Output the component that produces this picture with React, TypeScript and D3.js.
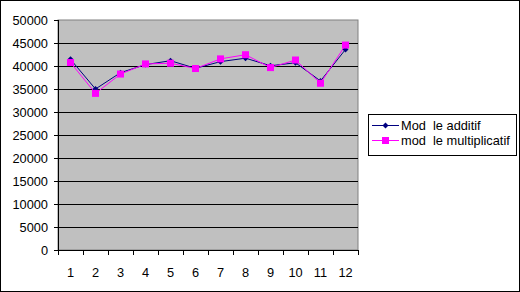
import React from "react";
import * as d3 from "d3";

const categories = ["1", "2", "3", "4", "5", "6", "7", "8", "9", "10", "11", "12"];
const additif = [41450, 35000, 38550, 40300, 41150, 39500, 40950, 41700, 40050, 40700, 36750, 43600];
const multiplicatif = [40750, 34050, 38250, 40450, 40600, 39450, 41550, 42450, 39650, 41300, 36250, 44550];
const yTicks = [0, 5000, 10000, 15000, 20000, 25000, 30000, 35000, 40000, 45000, 50000];
const seriesNames = ["Mod  le additif", "mod  le multiplicatif"];

const W = 520, H = 292;
const L = 58, R = 358, T = 20, B = 250;

export default function App() {
  const x = d3.scaleBand().domain(categories).range([L, R]);
  const y = d3.scaleLinear().domain([0, 50000]).range([B, T]);
  const line = d3.line<number>()
    .x((_, i) => (x(categories[i]) as number) + x.bandwidth() / 2)
    .y((d) => y(d));
  const font = "'Liberation Sans', Arial, sans-serif";
  const fs = 12.8;
  const boundaries = categories.map((c) => x(c) as number).concat([R]);
  return (
    <svg width={W} height={H} style={{ position: "absolute", left: 0, top: 0 }} fontFamily={font}>
      <rect x={0.5} y={0.5} width={W - 1} height={H - 1} fill="#fff" stroke="#000" />
      <rect x={L} y={T} width={R - L} height={B - T} fill="#c0c0c0" stroke="#808080" />
      {yTicks.map((t) => (
        <g key={t}>
          {t > 0 && t < 50000 && (
            <line x1={L} x2={R} y1={Math.round(y(t)) + 0.5} y2={Math.round(y(t)) + 0.5} stroke="#000" />
          )}
          <line x1={L - 4} x2={L} y1={Math.round(y(t)) + 0.5} y2={Math.round(y(t)) + 0.5} stroke="#000" />
          <text x={48} y={y(t) + 4.5} fontSize={fs} textAnchor="end" fill="#000">{t}</text>
        </g>
      ))}
      <line x1={L + 0.5} x2={L + 0.5} y1={T} y2={B} stroke="#000" />
      <line x1={L} x2={R} y1={B + 0.5} y2={B + 0.5} stroke="#000" />
      {boundaries.map((b, i) => (
        <line key={i} x1={Math.round(b) + 0.5} x2={Math.round(b) + 0.5} y1={B} y2={B + 5} stroke="#000" />
      ))}
      {categories.map((c) => (
        <text key={c} x={(x(c) as number) + x.bandwidth() / 2} y={277} fontSize={fs} textAnchor="middle" fill="#000">{c}</text>
      ))}
      <path d={line(additif) || ""} fill="none" stroke="#000080" strokeWidth={1} />
      <path d={line(multiplicatif) || ""} fill="none" stroke="#ff00ff" strokeWidth={1} />
      {additif.map((v, i) => {
        const cx = (x(categories[i]) as number) + x.bandwidth() / 2;
        const cy = y(v);
        return <path key={i} d={`M${cx},${cy - 3}L${cx + 3},${cy}L${cx},${cy + 3}L${cx - 3},${cy}Z`} fill="#000080" />;
      })}
      {multiplicatif.map((v, i) => {
        const cx = (x(categories[i]) as number) + x.bandwidth() / 2;
        const cy = y(v);
        return <rect key={i} x={cx - 3.5} y={cy - 3.5} width={7} height={7} fill="#ff00ff" />;
      })}
      <rect x={368.5} y={114.5} width={148} height={41} fill="#fff" stroke="#000" />
      <line x1={372} x2={399} y1={125.5} y2={125.5} stroke="#000080" />
      <path d="M385.5,122.5L388.5,125.5L385.5,128.5L382.5,125.5Z" fill="#000080" />
      <line x1={372} x2={399} y1={140.5} y2={140.5} stroke="#ff00ff" />
      <rect x={382} y={137} width={7} height={7} fill="#ff00ff" />
      <text x={401} y={130} fontSize={fs} fill="#000" style={{ whiteSpace: "pre" }}>{seriesNames[0]}</text>
      <text x={401} y={145} fontSize={fs} fill="#000" style={{ whiteSpace: "pre" }}>{seriesNames[1]}</text>
    </svg>
  );
}
